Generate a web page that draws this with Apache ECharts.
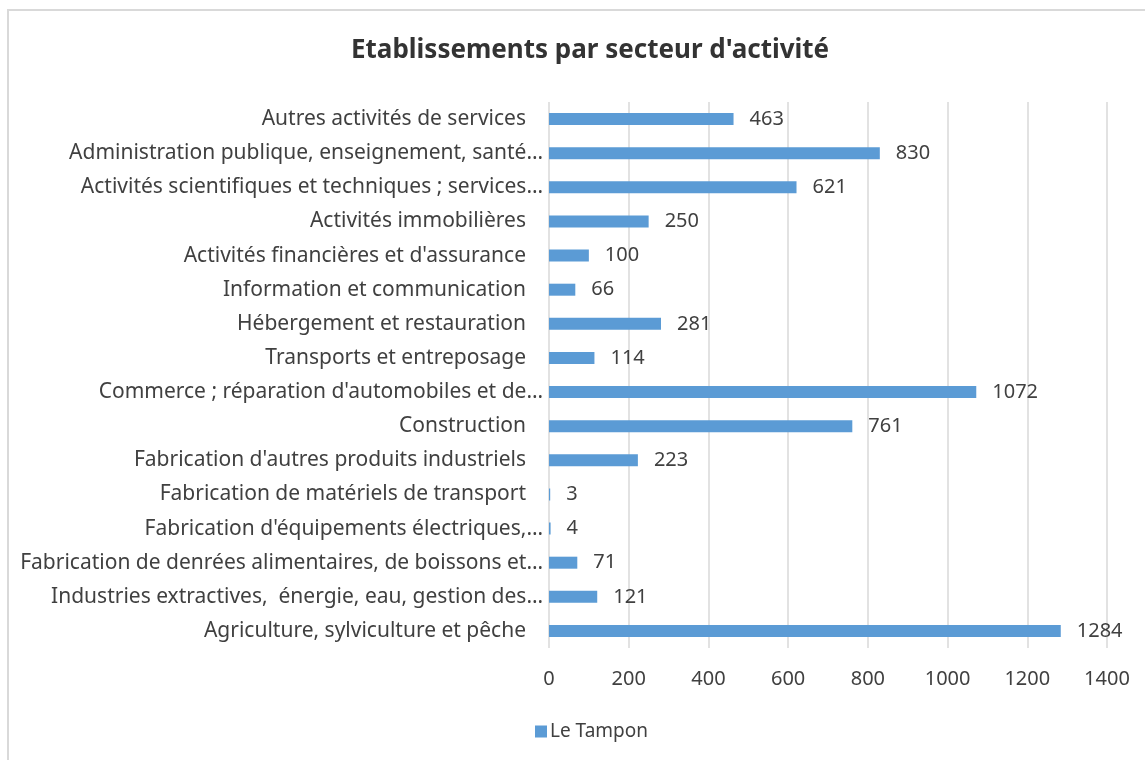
<!DOCTYPE html>
<html>
<head>
<meta charset="utf-8">
<script src="https://cdn.jsdelivr.net/npm/echarts@6/dist/echarts.min.js"></script>
<style>
  html, body { margin: 0; padding: 0; background: #fff; }
  #frame {
    position: absolute; left: 7px; top: 9px; width: 1200px; height: 800px;
    border-left: 2px solid #d9d9d9; border-top: 2px solid #d9d9d9;
  }
  #chart { position: absolute; left: 0; top: 0; width: 1145px; height: 760px; }
</style>
</head>
<body>
<div id="frame"></div>
<div id="chart"></div>
<script>
// categories, bottom to top as in the chart
var categories = [
  'Agriculture, sylviculture et pêche',
  'Industries extractives,  énergie, eau, gestion des…',
  'Fabrication de denrées alimentaires, de boissons et…',
  'Fabrication d\'équipements électriques,…',
  'Fabrication de matériels de transport',
  'Fabrication d\'autres produits industriels',
  'Construction',
  'Commerce ; réparation d\'automobiles et de…',
  'Transports et entreposage',
  'Hébergement et restauration',
  'Information et communication',
  'Activités financières et d\'assurance',
  'Activités immobilières',
  'Activités scientifiques et techniques ; services…',
  'Administration publique, enseignement, santé…',
  'Autres activités de services'
];
var leTampon = [1284, 121, 71, 4, 3, 223, 761, 1072, 114, 281, 66, 100, 250, 621, 830, 463];
var seriesName = 'Le Tampon';
var titleText = 'Etablissements par secteur d\'activité';

var FONT = '"Noto Sans", "Open Sans", sans-serif';
var TXT = '#404040';

var chart = echarts.init(document.getElementById('chart'));
chart.setOption({
  backgroundColor: 'transparent',
  title: {
    text: titleText,
    left: 346,
    top: 33,
    textStyle: { fontFamily: FONT, fontSize: 26, fontWeight: 'bold', color: '#333333' }
  },
  legend: {
    data: [seriesName],
    left: 530,
    top: 717,
    icon: 'rect',
    itemWidth: 12,
    itemHeight: 12,
    itemGap: 6,
    textStyle: { fontFamily: FONT, fontSize: 19, color: TXT, padding: [0, 0, 0, -2] }
  },
  grid: { left: 549, right: 38, top: 102, bottom: 112 },
  xAxis: {
    type: 'value',
    min: 0,
    max: 1400,
    interval: 200,
    axisLine: { show: false },
    axisTick: { show: false },
    axisLabel: {
      margin: 21, fontFamily: FONT, fontSize: 20, color: TXT,
      formatter: function (v) { return String(v); }
    },
    splitLine: { show: true, lineStyle: { color: '#d9d9d9', width: 1.5 } }
  },
  yAxis: {
    type: 'category',
    data: categories,
    axisLine: { show: false },
    axisTick: { show: false },
    axisLabel: {
      margin: 6,
      fontFamily: FONT, fontSize: 21, color: TXT,
      formatter: function (v) {
        return v.slice(-1) === '…' ? '{t|' + v + '}' : '{p|' + v + '}';
      },
      rich: {
        t: { fontFamily: FONT, fontSize: 21, color: TXT },
        p: { fontFamily: FONT, fontSize: 21, color: TXT, padding: [0, 17, 0, 0] }
      }
    }
  },
  series: [{
    name: seriesName,
    type: 'bar',
    data: leTampon,
    barWidth: 12,
    itemStyle: { color: '#5b9bd5' },
    label: {
      show: true,
      position: 'right',
      distance: 16,
      fontFamily: FONT, fontSize: 20, color: TXT,
      formatter: function (p) { return String(p.value); }
    }
  }]
});
</script>
</body>
</html>
